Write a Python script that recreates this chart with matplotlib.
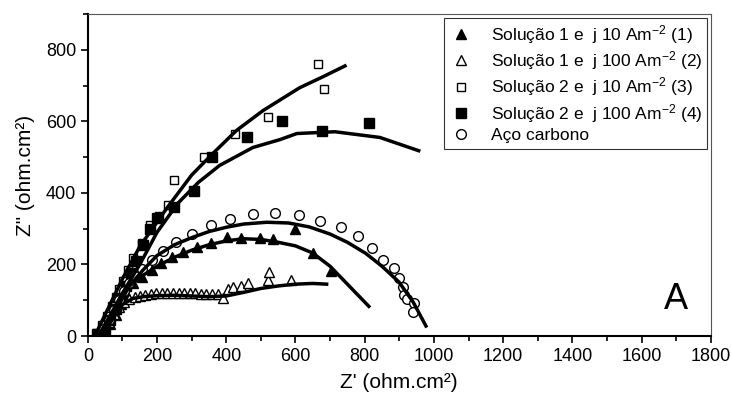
import matplotlib
matplotlib.use('Agg')
import matplotlib.pyplot as plt
from matplotlib.ticker import MultipleLocator

plt.rcParams['font.family'] = ['Liberation Sans', 'DejaVu Sans']

# Solução 1, j 10 Am-2 (filled triangles)
s1_x = [35, 50, 65, 80, 95, 110, 131, 156, 184, 211, 242, 275, 314, 357, 403, 444, 497, 535, 598, 651, 704]
s1_y = [3, 15, 35, 60, 90, 120, 147, 165, 184, 203, 220, 234, 249, 260, 276, 275, 273, 270, 298, 231, 181]
fit1_x = [35, 60, 90, 120, 160, 200, 250, 300, 350, 400, 450, 500, 550, 600, 650, 700, 750, 812]
fit1_y = [0, 40, 100, 140, 170, 195, 220, 240, 255, 266, 272, 270, 262, 252, 232, 195, 145, 83]

# Solução 1, j 100 Am-2 (open triangles)
s2_x = [30, 45, 60, 75, 90, 105, 120, 135, 150, 165, 182, 198, 214, 230, 246, 262, 278, 294,
        310, 326, 342, 358, 375, 390, 406, 420, 444, 463, 521, 524, 588]
s2_y = [5, 20, 40, 62, 82, 95, 103, 108, 112, 115, 118, 120, 120, 121, 121, 120, 120, 119,
        119, 118, 118, 117, 118, 106, 131, 137, 139, 148, 156, 178, 156]
fit2_x = [40, 70, 100, 130, 160, 200, 250, 300, 350, 400, 450, 500, 550, 600, 650, 690]
fit2_y = [0, 45, 88, 105, 110, 113, 114, 112, 110, 112, 122, 133, 140, 145, 147, 145]

# Solução 2, j 10 Am-2 (open squares)
s3_x = [25, 40, 55, 70, 81, 90, 101, 116, 130, 156, 179, 205, 231, 248, 335, 425, 520, 665, 683]
s3_y = [8, 30, 55, 85, 109, 131, 153, 184, 217, 259, 309, 335, 365, 437, 500, 565, 613, 761, 691]
fit3_x = [20, 40, 70, 100, 150, 228, 300, 361, 430, 506, 612, 680, 743]
fit3_y = [0, 40, 100, 160, 250, 357, 450, 510, 575, 630, 694, 725, 755]

# Solução 2, j 100 Am-2 (filled squares)
s4_x = [30, 50, 65, 80, 95, 110, 125, 140, 160, 180, 200, 250, 306, 359, 459, 560, 677, 812]
s4_y = [5, 20, 45, 75, 105, 140, 175, 210, 255, 300, 330, 360, 404, 500, 555, 602, 574, 596]
fit4_x = [30, 60, 100, 150, 200, 260, 320, 381, 477, 555, 604, 714, 844, 956]
fit4_y = [0, 50, 120, 200, 290, 371, 430, 477, 527, 549, 566, 571, 555, 518]

# Aço carbono (open circles)
ac_x = [30, 45, 60, 75, 90, 105, 120, 137, 156, 185, 217, 256, 302, 355, 410, 476, 541, 611,
        672, 731, 781, 821, 852, 885, 899, 910, 913, 921, 942, 939]
ac_y = [3, 20, 45, 72, 100, 125, 148, 168, 188, 213, 237, 262, 284, 309, 328, 340, 343, 337,
        321, 304, 279, 245, 212, 189, 162, 137, 114, 103, 92, 67]
fitac_x = [45, 80, 120, 160, 200, 250, 300, 350, 400, 450, 517, 580, 640, 700, 750, 803, 850, 899, 940, 977]
fitac_y = [0, 70, 140, 185, 225, 255, 275, 292, 304, 313, 318, 316, 305, 285, 262, 231, 195, 151, 95, 28]

fig = plt.figure(figsize=(7.32, 4.01), dpi=100)
ax = fig.add_axes([0.120, 0.162, 0.851, 0.803])

sup = r'$\mathregular{^{-2}}$'
ms = 7
ax.plot(s1_x, s1_y, '^', color='black', ms=ms, ls='none', label='Solução 1 e  j 10 Am' + sup + ' (1)')
ax.plot(s2_x, s2_y, '^', mfc='white', mec='black', ms=ms, ls='none', label='Solução 1 e  j 100 Am' + sup + ' (2)')
ax.plot(s3_x, s3_y, 's', mfc='white', mec='black', ms=ms - 1, ls='none', label='Solução 2 e  j 10 Am' + sup + ' (3)')
ax.plot(s4_x, s4_y, 's', color='black', ms=ms, ls='none', label='Solução 2 e  j 100 Am' + sup + ' (4)')
ax.plot(ac_x, ac_y, 'o', mfc='white', mec='black', ms=ms, ls='none', label='Aço carbono')

for fx, fy in [(fit1_x, fit1_y), (fit2_x, fit2_y), (fit3_x, fit3_y), (fit4_x, fit4_y), (fitac_x, fitac_y)]:
    ax.plot(fx, fy, '-', color='black', lw=2.5)

ax.set_xlim(0, 1800)
ax.set_ylim(0, 900)
ax.xaxis.set_major_locator(MultipleLocator(200))
ax.xaxis.set_minor_locator(MultipleLocator(100))
ax.yaxis.set_major_locator(MultipleLocator(200))
ax.yaxis.set_minor_locator(MultipleLocator(100))
ax.tick_params(which='both', direction='out', labelsize=13, width=1.2)
ax.tick_params(which='major', length=5)
ax.tick_params(which='minor', length=3.5)
for s in ['left', 'bottom']:
    ax.spines[s].set_linewidth(1.5)
for s in ['top', 'right']:
    ax.spines[s].set_linewidth(0.8)
    ax.spines[s].set_color('#555555')

ax.set_xlabel("Z' (ohm.cm²)", fontsize=15, labelpad=6)
ax.set_ylabel('Z" (ohm.cm²)', fontsize=15, labelpad=8)

ax.text(1699, 103, 'A', fontsize=26, ha='center', va='center')

leg = ax.legend(loc='upper right', fontsize=12.5, frameon=True, fancybox=False,
                edgecolor='black', borderaxespad=0.2, handletextpad=1.0, labelspacing=0.2,
                borderpad=0.3, handlelength=1.4)
leg.get_frame().set_linewidth(0.8)

fig.savefig('out.png', dpi=100)
